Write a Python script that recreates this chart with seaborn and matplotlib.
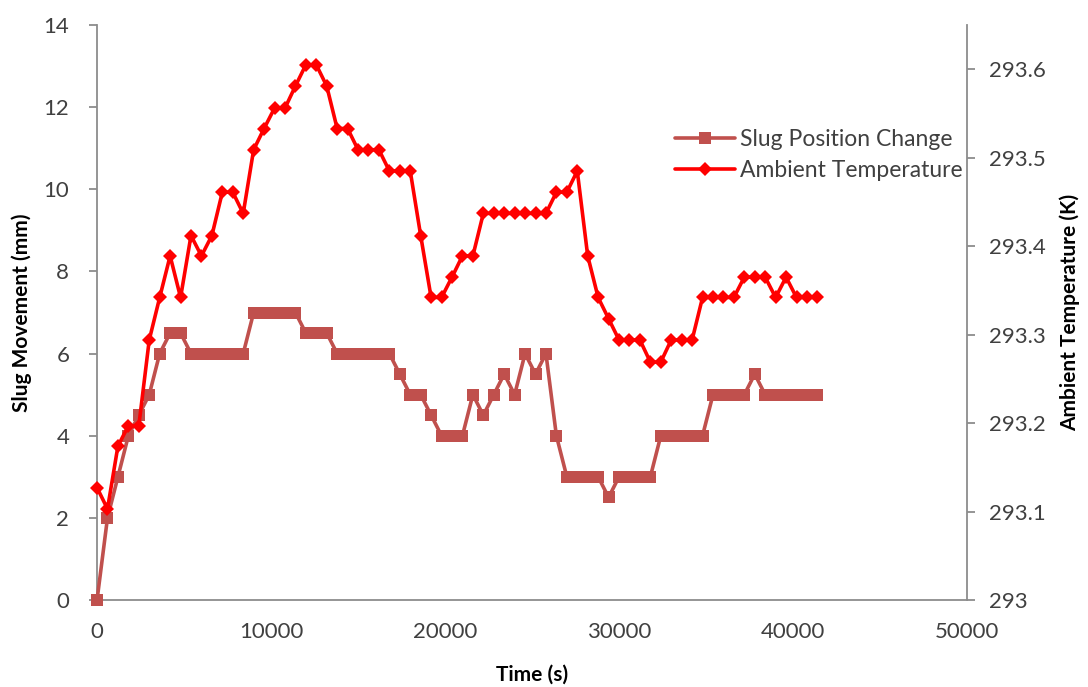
import numpy as np
import pandas as pd
import matplotlib
matplotlib.use("Agg")
import matplotlib.pyplot as plt
import seaborn as sns

# Sampling times (s), one reading every 600 s
time_s = [600 * i for i in range(70)]

# Slug position change (mm)
slug_mm = [
    0, 2, 3, 4, 4.5, 5, 6, 6.5, 6.5,
    6, 6, 6, 6, 6, 6,
    7, 7, 7, 7, 7,
    6.5, 6.5, 6.5,
    6, 6, 6, 6, 6, 6,
    5.5, 5, 5, 4.5, 4, 4, 4,
    5, 4.5, 5, 5.5, 5, 6, 5.5, 6, 4,
    3, 3, 3, 3, 2.5, 3, 3, 3, 3,
    4, 4, 4, 4, 4,
    5, 5, 5, 5, 5.5,
    5, 5, 5, 5, 5, 5,
]

# Ambient temperature (K)
temp_K = [
    293.127, 293.103, 293.174, 293.197, 293.197, 293.294, 293.342, 293.389,
    293.342, 293.412, 293.389, 293.412, 293.461, 293.461, 293.437, 293.509,
    293.533, 293.556, 293.556, 293.581, 293.605, 293.605, 293.581, 293.533,
    293.533, 293.509, 293.509, 293.509, 293.485, 293.485, 293.485, 293.412,
    293.342, 293.342, 293.365, 293.389, 293.389, 293.437, 293.437, 293.437,
    293.437, 293.437, 293.437, 293.437, 293.461, 293.461, 293.485, 293.389,
    293.342, 293.318, 293.294, 293.294, 293.294, 293.269, 293.269, 293.294,
    293.294, 293.294, 293.342, 293.342, 293.342, 293.342, 293.365, 293.365,
    293.365, 293.342, 293.365, 293.342, 293.342, 293.342,
]

x_ticks = [0, 10000, 20000, 30000, 40000, 50000]
left_ticks = [0, 2, 4, 6, 8, 10, 12, 14]
right_ticks = [293.0, 293.1, 293.2, 293.3, 293.4, 293.5, 293.6]
right_tick_labels = ["293", "293.1", "293.2", "293.3", "293.4", "293.5", "293.6"]

df = pd.DataFrame({"time": time_s, "slug": slug_mm, "temp": temp_K})

sns.set_style("white")
plt.rcParams["font.family"] = ["Lato", "DejaVu Sans"]

text_col = "#404040"
spine_col = "#8c8c8c"
slug_col = "#C0504D"
temp_col = "#FF0000"

fig = plt.figure(figsize=(10.88, 6.87), dpi=100)
ax = fig.add_axes([0.0892, 0.1266, 0.7996, 0.8370])
ax2 = ax.twinx()

sns.lineplot(data=df, x="time", y="slug", ax=ax, color=slug_col, linewidth=2.6,
             marker="s", markersize=8, markeredgewidth=0, label="Slug Position Change",
             legend=False, clip_on=False, zorder=3)
sns.lineplot(data=df, x="time", y="temp", ax=ax2, color=temp_col, linewidth=2.6,
             marker="D", markersize=7, markeredgewidth=0, label="Ambient Temperature",
             legend=False, clip_on=False, zorder=3)

ax.set_xlim(0, 50000)
ax.set_ylim(0, 14)
ax2.set_ylim(293.0, 293.65)
ax.set_xticks(x_ticks)
ax.set_xticklabels([str(t) for t in x_ticks])
ax.set_yticks(left_ticks)
ax2.set_yticks(right_ticks)
ax2.set_yticklabels(right_tick_labels)

ax.set_xlabel("Time (s)", fontsize=15, fontweight="bold", color="black", labelpad=16)
ax.set_ylabel("Slug Movement (mm)", fontsize=15, fontweight="bold", color="black", labelpad=8)
ax2.set_ylabel("Ambient Temperature (K)", fontsize=15, fontweight="bold", color="black", labelpad=10)

for a in (ax, ax2):
    a.spines["top"].set_visible(False)
    for s in ("left", "right", "bottom"):
        a.spines[s].set_color(spine_col)
        a.spines[s].set_linewidth(1.3)
    a.tick_params(axis="both", direction="out", length=6, width=1.3, color=spine_col,
                  labelsize=16, labelcolor=text_col, pad=10)
    a.grid(False)
ax.tick_params(axis="y", pad=14)
ax.spines["right"].set_visible(False)
ax2.spines["left"].set_visible(False)
ax2.spines["bottom"].set_visible(False)

handles = ax.get_lines()[:1] + ax2.get_lines()[:1]
leg = fig.legend(handles, ["Slug Position Change", "Ambient Temperature"],
                 loc="upper left", bbox_to_anchor=(0.612, 0.826), frameon=False,
                 fontsize=16.5, handlelength=2.6, handletextpad=0.25, labelspacing=0.45,
                 borderaxespad=0)
for t in leg.get_texts():
    t.set_color(text_col)

fig.savefig("out.png", dpi=100)
